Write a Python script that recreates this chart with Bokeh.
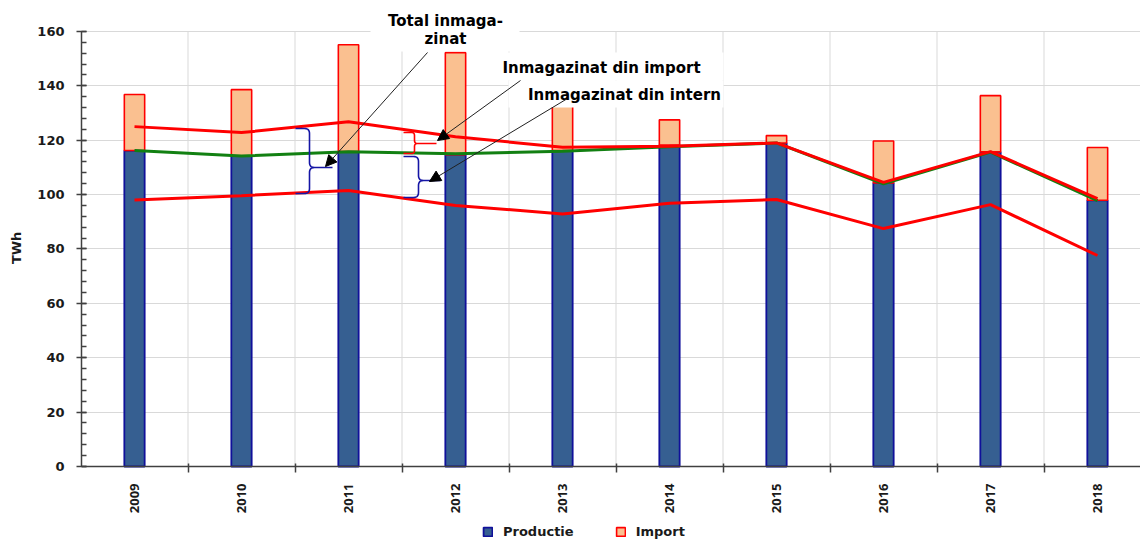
import numpy as np
from bokeh.plotting import figure
from bokeh.models import (Range1d, FixedTicker, Legend, LegendItem,
                          Label, Arrow, NormalHead, ColumnDataSource)
from bokeh.embed import file_html
from bokeh.resources import INLINE

# ---------------- data ----------------
years = [2009, 2010, 2011, 2012, 2013, 2014, 2015, 2016, 2017, 2018]
year_labels = ["2009", "2010", "2011", "2012", "2013", "2014", "2015", "2016", "2017", "2018"]
productie = [116.2, 114.3, 115.8, 114.7, 116.2, 118.2, 119.0, 104.3, 115.7, 97.9]
import_twh = [20.6, 24.3, 39.3, 37.5, 23.0, 9.3, 2.7, 15.4, 20.7, 19.4]
# lines
linie_total_sus = [125.0, 122.8, 126.8, 121.3, 117.4, 117.8, 119.0, 104.5, 115.8, 98.5]
linie_verde = [116.2, 114.2, 115.8, 115.0, 115.9, 117.6, 119.0, 104.0, 115.6, 97.8]
linie_total_jos = [98.0, 99.6, 101.5, 96.0, 92.9, 96.8, 98.2, 87.5, 96.3, 77.6]
y_ticks = [0, 20, 40, 60, 80, 100, 120, 140, 160]
y_minor = list(range(0, 161, 4))

FONT = "DejaVu Sans"
BLUE_FILL = "#365F91"
BLUE_LINE = "#10109A"
PEACH = "#FAC090"
RED = "#FF0000"
GREEN = "#128012"
GRID = "#D9D9D9"
AXIS = "#404040"
W, H = 1140, 540

# helpers for annotation placement (reference-pixel -> data)
def X(px):
    return 2009 + (px - 134) / 107.0

def Y(py):
    return (466 - py) / 2.719

src = ColumnDataSource(dict(
    x=years,
    prod=productie,
    imp_top=[a + b for a, b in zip(productie, import_twh)],
))

p = figure(width=W, height=H,
           x_range=Range1d(X(81), X(W)), y_range=Range1d(Y(H), Y(0)),
           output_backend="svg", toolbar_location=None,
           min_border_left=81, min_border_right=0, min_border_top=0, min_border_bottom=0)
p.outline_line_color = None
p.background_fill_color = "white"
p.border_fill_color = "white"

boundaries = [y + 0.5 for y in years[:-1]]

# vertical grid lines at category boundaries (0..160 only)
vg = p.segment(x0=boundaries, y0=[y_ticks[0]] * len(boundaries),
               x1=boundaries, y1=[y_ticks[-1]] * len(boundaries),
               line_color=GRID, line_width=1)
vg.level = "underlay"

bar_w = 0.19
r_prod = p.vbar(x="x", top="prod", bottom=0, width=bar_w, source=src,
                fill_color=BLUE_FILL, line_color=BLUE_LINE, line_width=1.8)
r_imp = p.vbar(x="x", top="imp_top", bottom="prod", width=bar_w, source=src,
               fill_color=PEACH, line_color=RED, line_width=1.6)

p.line(years, linie_verde, line_color=GREEN, line_width=3)
p.line(years, linie_total_sus, line_color=RED, line_width=3)
p.line(years, linie_total_jos, line_color=RED, line_width=3)

# white text boxes (cover grid / bars like the reference)
box_l = [X(370), X(500), X(508)]
box_r = [X(519), X(723), X(723)]
box_t = [Y(0), Y(52), Y(80)]
box_b = [Y(51), Y(80), Y(107)]
p.quad(left=box_l, right=box_r, top=box_t, bottom=box_b,
       fill_color="white", line_color=None)

# braces
def qbez(p0, p1, p2, n=8):
    t = np.linspace(0, 1, n)
    xs = (1 - t) ** 2 * p0[0] + 2 * (1 - t) * t * p1[0] + t ** 2 * p2[0]
    ys = (1 - t) ** 2 * p0[1] + 2 * (1 - t) * t * p1[1] + t ** 2 * p2[1]
    return list(xs), list(ys)

def brace(xa, xb, xc, yt, ym, yb, r=5):
    xs, ys = [xa], [yt]
    a, b = qbez((xb - r, yt), (xb, yt), (xb, yt + r)); xs += a; ys += b
    a, b = qbez((xb, ym - r), (xb, ym), (xb + r, ym)); xs += a; ys += b
    xs += [xc, xb + r]; ys += [ym, ym]
    a, b = qbez((xb + r, ym), (xb, ym), (xb, ym + r)); xs += a; ys += b
    a, b = qbez((xb, yb - r), (xb, yb), (xb - r, yb)); xs += a; ys += b
    xs += [xa]; ys += [yb]
    return [X(v) for v in xs], [Y(v) for v in ys]

bx, by = brace(295, 309, 332, 128, 167, 193, r=5)
p.line(bx, by, line_color="#1515A5", line_width=1.6)
bx, by = brace(403, 414, 436, 132, 143, 153, r=3)
p.line(bx, by, line_color=RED, line_width=1.6)
bx, by = brace(403, 418, 440, 156, 180, 197, r=5)
p.line(bx, by, line_color="#1515A5", line_width=1.6)

# arrows
for (x0, y0, x1, y1) in [(427, 52, 325, 166), (520, 80, 437, 140), (567, 98, 429, 181)]:
    p.add_layout(Arrow(x_start=X(x0), y_start=Y(y0), x_end=X(x1), y_end=Y(y1),
                       line_color="#202020", line_width=1,
                       end=NormalHead(size=11, fill_color="black", line_color="black", line_width=1)))

# labels
for txt, cx, by_ in [("Total inmaga-", 445, 20), ("zinat", 445, 38),
                     ("Inmagazinat din import", 601, 67), ("Inmagazinat din intern", 624, 94)]:
    p.add_layout(Label(x=X(cx), y=Y(by_), text=txt, text_align="center",
                       text_baseline="alphabetic", text_font=FONT, text_font_style="bold",
                       text_font_size="15px", text_color="black"))

# x axis, pinned at y = 0
p.xaxis.fixed_location = 0
p.xaxis.ticker = FixedTicker(ticks=years, minor_ticks=boundaries)
p.xaxis.major_label_overrides = {y: s for y, s in zip(years, year_labels)}
p.xaxis.major_label_orientation = np.pi / 2
p.xaxis.major_tick_line_color = None
p.xaxis.major_tick_in = 0
p.xaxis.major_tick_out = 0
p.xaxis.minor_tick_in = 3
p.xaxis.minor_tick_out = 6
p.xaxis.minor_tick_line_color = AXIS
p.xaxis.minor_tick_line_width = 1.5
p.xaxis.major_label_standoff = 11
p.xaxis.major_label_text_font = "Open Sans"
p.xaxis.major_label_text_font_style = "bold"
p.xaxis.major_label_text_font_size = "13px"
p.xaxis.major_label_text_color = "#1a1a1a"
p.xaxis.axis_line_color = AXIS
p.xaxis.axis_line_width = 1.5

# y axis, 0..160
p.yaxis.bounds = (0, 160)
p.yaxis.ticker = FixedTicker(ticks=y_ticks, minor_ticks=y_minor)
p.yaxis.major_tick_in = 5
p.yaxis.major_tick_out = 5
p.yaxis.minor_tick_in = 5
p.yaxis.minor_tick_out = 0
p.yaxis.major_tick_line_color = AXIS
p.yaxis.minor_tick_line_color = AXIS
p.yaxis.major_tick_line_width = 1.3
p.yaxis.minor_tick_line_width = 1.3
p.yaxis.axis_line_color = AXIS
p.yaxis.axis_line_width = 1.5
p.yaxis.major_label_standoff = 12
p.yaxis.major_label_text_font = FONT
p.yaxis.major_label_text_font_style = "bold"
p.yaxis.major_label_text_font_size = "13px"
p.yaxis.major_label_text_color = "#1a1a1a"
# leading no-break spaces shift the rotated label up to the middle of 0..160
p.yaxis.axis_label = "\u00a0" * 10 + "TWh"
p.yaxis.axis_label_text_font = FONT
p.yaxis.axis_label_text_font_style = "bold"
p.yaxis.axis_label_text_font_size = "13px"
p.yaxis.axis_label_text_color = "#1a1a1a"
p.yaxis.axis_label_standoff = 10

p.ygrid.ticker = FixedTicker(ticks=y_ticks)
p.ygrid.grid_line_color = GRID
p.ygrid.grid_line_width = 1
p.xgrid.visible = False

legend = Legend(items=[LegendItem(label="Productie", renderers=[r_prod]),
                       LegendItem(label="Import", renderers=[r_imp])],
                location=(401, 1), orientation="horizontal",
                padding=0, margin=0, spacing=41, glyph_width=11, glyph_height=11,
                label_standoff=10, border_line_color=None, background_fill_alpha=0,
                label_text_font=FONT, label_text_font_style="bold",
                label_text_font_size="13px", label_text_color="#1a1a1a")
p.add_layout(legend)

open("out.html", "w").write(file_html(p, INLINE))
